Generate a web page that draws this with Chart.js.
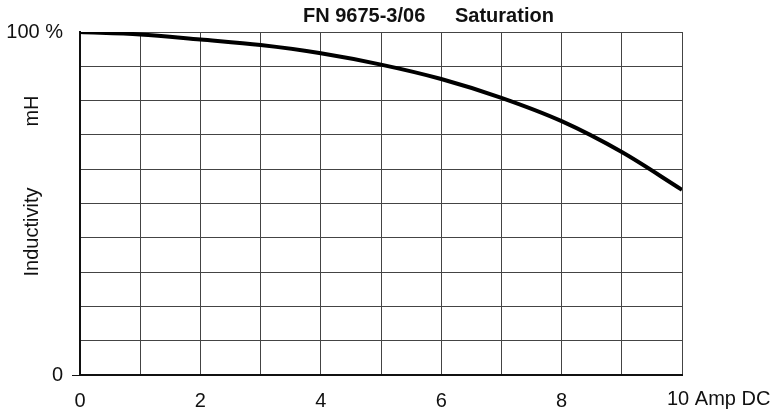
<!DOCTYPE html>
<html>
<head>
<meta charset="utf-8">
<script src="https://cdn.jsdelivr.net/npm/chart.js@4/dist/chart.umd.min.js"></script>
<style>
  html, body { margin: 0; padding: 0; background: #fff; }
  #wrap { width: 780px; height: 413px; position: relative; }
</style>
</head>
<body>
<div id="wrap"><canvas id="satChart"></canvas></div>
<script>
// Inductivity (% of nominal) vs DC current (A)
const currentAmp = [0, 1, 2, 3, 4, 5, 6, 7, 8, 9, 10];
const inductivityPct = [100, 99.3, 97.8, 96.2, 93.8, 90.5, 86.3, 80.8, 74, 65, 54];
const xTickLabels = { 0: "0", 2: "2", 4: "4", 6: "6", 8: "8" };
const yTickLabels = { 0: "0", 100: "100 %" };
const titleLeft = "FN 9675-3/06";
const titleRight = "Saturation";
const xLastLabel = "10 Amp DC"; // last tick carries the unit, drawn below

const FONT = "'Liberation Sans', Arial, Helvetica, sans-serif";

// extra texts: title, y labels, last x tick with unit
const extraText = {
    id: "extraText",
    afterDraw(chart) {
        const ctx = chart.ctx;
        const xs = chart.scales.x;
        ctx.save();
        ctx.fillStyle = "#111";

        ctx.font = "bold 20px " + FONT;
        ctx.textBaseline = "middle";
        ctx.textAlign = "left";
        ctx.fillText(titleLeft, 303, 16);
        ctx.fillText(titleRight, 455, 16);

        ctx.font = "20px " + FONT;
        ctx.textBaseline = "top";
        ctx.fillText(xLastLabel, xs.getPixelForValue(10) - 15, xs.top + 14);

        ctx.textAlign = "center";
        ctx.textBaseline = "middle";
        ctx.translate(32, 111);
        ctx.rotate(-Math.PI / 2);
        ctx.fillText("mH", 0, 0);
        ctx.rotate(Math.PI / 2);
        ctx.translate(0, 121);
        ctx.rotate(-Math.PI / 2);
        ctx.fillText("Inductivity", 0, 0);
        ctx.restore();
    }
};

const ctx = document.getElementById("satChart").getContext("2d");
new Chart(ctx, {
    type: "line",
    data: {
        datasets: [{
            data: currentAmp.map((a, i) => ({ x: a, y: inductivityPct[i] })),
            borderColor: "#000",
            borderWidth: 4,
            pointRadius: 0,
            fill: false,
            cubicInterpolationMode: "monotone"
        }]
    },
    options: {
        responsive: true,
        maintainAspectRatio: false,
        animation: false,
        layout: { padding: { left: 0, right: 98, top: 32, bottom: 0 } },
        plugins: {
            legend: { display: false },
            title: { display: false },
            tooltip: { enabled: false }
        },
        scales: {
            x: {
                type: "linear",
                min: 0,
                max: 10,
                afterFit: s => { s.height = 38; },
                border: { color: "#111", width: 2 },
                grid: { color: "#444", lineWidth: 1, drawTicks: false },
                ticks: {
                    stepSize: 1,
                    padding: 14,
                    color: "#111",
                    font: { family: FONT, size: 20 },
                    maxRotation: 0,
                    autoSkip: false,
                    callback: v => xTickLabels[v] || ""
                }
            },
            y: {
                min: 0,
                max: 100,
                afterFit: s => { s.width = 80; },
                border: { color: "#111", width: 2 },
                grid: {
                    color: "#444",
                    lineWidth: 1,
                    tickLength: 8,
                    tickColor: c => (c.tick && c.tick.value === 0 ? "#111" : "rgba(0,0,0,0)")
                },
                ticks: {
                    stepSize: 10,
                    padding: 9,
                    color: "#111",
                    font: { family: FONT, size: 20 },
                    autoSkip: false,
                    callback: v => yTickLabels[v] || ""
                }
            }
        }
    },
    plugins: [extraText]
});
</script>
</body>
</html>
